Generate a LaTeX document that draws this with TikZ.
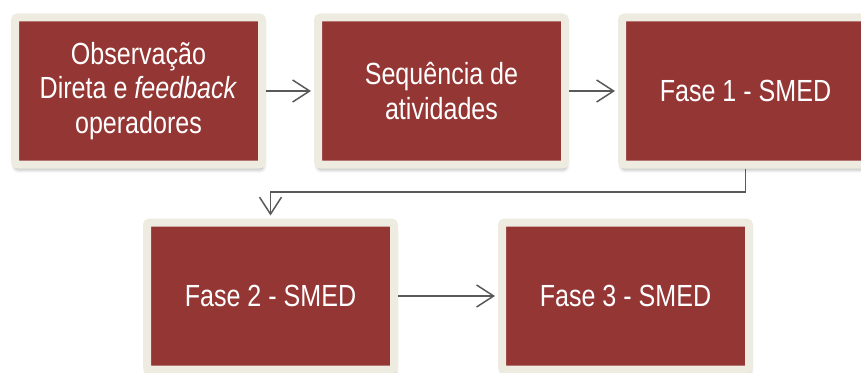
\documentclass[tikz,border=0pt]{standalone}
\usepackage{fontspec}
\setmainfont[FakeStretch=0.82]{Liberation Sans}
\usetikzlibrary{arrows.meta,shadows.blur}
\definecolor{boxred}{HTML}{943634}
\definecolor{boxrim}{HTML}{EEECE1}
\definecolor{linegray}{HTML}{595959}
\tikzset{
  smedbox/.style={draw=boxrim, fill=boxred, line width=0.16cm, rounded corners=1.5pt,
    minimum width=4.94cm, minimum height=2.94cm, inner sep=0pt, text=white,
    align=center, font=\fontsize{17.4}{19.8}\selectfont,
    blur shadow={shadow xshift=0.3pt, shadow yshift=-2.5pt, shadow blur steps=6, shadow blur radius=2.5pt}},
  flow/.style={draw=linegray, line width=0.03cm, -{Straight Barb[length=0.34cm,width=0.44cm]}, shorten >=0.06cm}
}
\begin{document}
\begin{tikzpicture}
\useasboundingbox (0,0) rectangle (17.22,7.44);
%top row
\node[smedbox] (obs) at (2.77,5.62) {Observação\\Direta e \textit{feedback}\\operadores};
\node[smedbox] (seq) at (8.83,5.62) {Sequência de\\atividades};
\node[smedbox] (fase1) at (14.91,5.62) {Fase 1 - SMED};
%bottom row
\node[smedbox] (fase2) at (5.41,1.52) {Fase 2 - SMED};
\node[smedbox] (fase3) at (12.51,1.52) {Fase 3 - SMED};
%%%%%%%
\coordinate (turn) at (14.91,3.6);
\draw[flow] (obs) -- (seq);
\draw[flow] (seq) -- (fase1);
\draw[flow] (fase1.south) -- (turn) -| (fase2.north);
\draw[flow] (fase2) -- (fase3);
\end{tikzpicture}
\end{document}
